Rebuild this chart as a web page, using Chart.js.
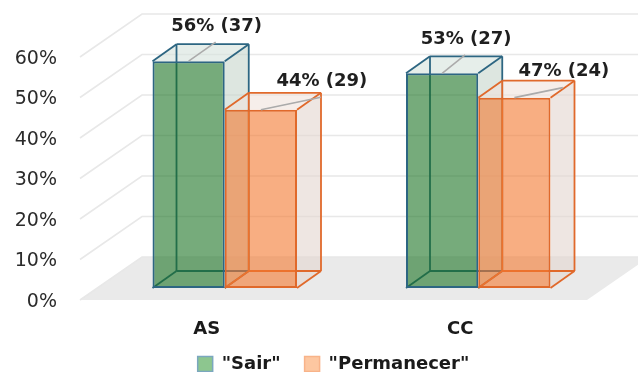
<!DOCTYPE html>
<html>
<head>
<meta charset="utf-8">
<script src="https://cdn.jsdelivr.net/npm/chart.js@4.4.1/dist/chart.umd.min.js"></script>
<style>
  html, body { margin: 0; padding: 0; background: #ffffff; }
  #chart { display: block; }
</style>
</head>
<body>
<canvas id="chart" width="638" height="372"></canvas>
<script>
// ---- data ----
const categories = ['AS', 'CC'];
const seriesNames = ['"Sair"', '"Permanecer"'];
const sairPct = [56, 53];
const sairCount = [37, 27];
const permanecerPct = [44, 47];
const permanecerCount = [29, 24];
const yMax = 60;
const yStep = 10;

// ---- 3D projection (oblique) ----
const FLOOR_DEPTH = { x: 62, y: -43 };   // front edge of the floor -> back wall
const BAR_FRONT = { x: 18, y: -12 };     // front face of the boxes, measured from the floor front
const BAR_DEPTH = { x: 24, y: -17 };     // box thickness
const LEGEND_SHIFT = { x: 40, y: -9 };

const styles = [
  { front: 'rgba(27,115,35,0.6)', edge: '#2D6682', top: 'rgba(213,226,220,0.6)', side: 'rgba(198,213,204,0.6)',
    legendFill: '#8DC68F', legendEdge: '#7BA7BF' },
  { front: 'rgba(243,120,47,0.6)', edge: '#E0692B', top: 'rgba(240,226,220,0.6)', side: 'rgba(226,214,207,0.6)',
    legendFill: '#FDC7A1', legendEdge: '#F8B389' }
];

// data-label placement relative to the top-front centre of each box
const labelOffsets = [
  [[28, -35], [24, -34.5]],
  [[61, -28.5], [49.5, -26]]
];
const counts = [sairCount, permanecerCount];

function boxGeometry(bar) {
  const half = bar.width / 2;
  const fl = bar.x - half + BAR_FRONT.x, fr = bar.x + half + BAR_FRONT.x;
  const ft = bar.y + BAR_FRONT.y, fb = bar.base + BAR_FRONT.y;
  const d = BAR_DEPTH;
  return {
    fl, fr, ft, fb,
    bl: fl + d.x, br: fr + d.x, bt: ft + d.y, bb: fb + d.y
  };
}

function line(ctx, x1, y1, x2, y2) {
  ctx.beginPath(); ctx.moveTo(x1, y1); ctx.lineTo(x2, y2); ctx.stroke();
}

function poly(ctx, pts, fill) {
  ctx.beginPath();
  ctx.moveTo(pts[0][0], pts[0][1]);
  for (let k = 1; k < pts.length; k++) ctx.lineTo(pts[k][0], pts[k][1]);
  ctx.closePath();
  ctx.fillStyle = fill;
  ctx.fill();
}

// back, side and top of each box, drawn before its translucent front face
function drawBoxBacks(ctx, meta, st) {
  ctx.save();
  meta.data.forEach(bar => {
    const g = boxGeometry(bar);
    poly(ctx, [[g.fr, g.ft], [g.br, g.bt], [g.br, g.bb], [g.fr, g.fb]], st.side);
    poly(ctx, [[g.fl, g.ft], [g.fr, g.ft], [g.br, g.bt], [g.bl, g.bt]], st.top);
    ctx.strokeStyle = st.edge;
    ctx.lineWidth = 1.8;
    ctx.lineJoin = 'round';
    // hidden edges, seen through the front
    line(ctx, g.bl, g.bt, g.bl, g.bb);
    line(ctx, g.bl, g.bb, g.br, g.bb);
    line(ctx, g.fl, g.fb, g.bl, g.bb);
    // outer back/depth edges
    line(ctx, g.bl, g.bt, g.br, g.bt);
    line(ctx, g.br, g.bt, g.br, g.bb);
    line(ctx, g.fl, g.ft, g.bl, g.bt);
    line(ctx, g.fr, g.ft, g.br, g.bt);
    line(ctx, g.fr, g.fb, g.br, g.bb);
  });
  ctx.restore();
}

const box3d = {
  id: 'box3d',
  afterLayout(chart) {
    const lg = chart.legend;
    lg.left += LEGEND_SHIFT.x; lg.right += LEGEND_SHIFT.x;
    lg.top += LEGEND_SHIFT.y; lg.bottom += LEGEND_SHIFT.y;
  },
  beforeDatasetsDraw(chart) {
    const { ctx, chartArea: a, scales: { y } } = chart;
    const D = FLOOR_DEPTH;
    ctx.save();
    // floor
    poly(ctx, [[a.left, a.bottom], [a.right, a.bottom], [a.right + D.x, a.bottom + D.y], [a.left + D.x, a.bottom + D.y]], '#EAEAEA');
    // side-wall and back-wall grid lines
    ctx.strokeStyle = '#E8E8E8';
    ctx.lineWidth = 1.6;
    for (let v = 0; v <= yMax; v += yStep) {
      const py = y.getPixelForValue(v);
      ctx.beginPath();
      ctx.moveTo(a.left, py);
      ctx.lineTo(a.left + D.x, py + D.y);
      ctx.lineTo(a.right + D.x, py + D.y);
      ctx.stroke();
    }
    ctx.restore();

    // boxes, left series first; each front face is drawn by the bar controller,
    // projected onto the box plane
    chart.data.datasets.forEach((ds, i) => {
      const meta = chart.getDatasetMeta(i);
      drawBoxBacks(ctx, meta, styles[i]);
      ctx.save();
      ctx.translate(BAR_FRONT.x, BAR_FRONT.y);
      meta.controller.draw();
      ctx.restore();
    });
  },
  // the boxes are already painted in series order above
  beforeDatasetDraw() {
    return false;
  },
  afterDatasetsDraw(chart) {
    const { ctx } = chart;
    ctx.save();
    ctx.font = 'bold 18px "DejaVu Sans"';
    ctx.textAlign = 'center';
    ctx.textBaseline = 'middle';
    chart.data.datasets.forEach((ds, i) => {
      chart.getDatasetMeta(i).data.forEach((bar, j) => {
        const tx = bar.x + BAR_FRONT.x, ty = bar.y + BAR_FRONT.y;
        const lx = tx + labelOffsets[i][j][0], ly = ty + labelOffsets[i][j][1];
        ctx.strokeStyle = '#ABABAB';
        ctx.lineWidth = 1.6;
        line(ctx, lx - 1, ly + 16, tx, ty);
        ctx.fillStyle = '#1F1F1F';
        ctx.fillText(ds.data[j] + '% (' + counts[i][j] + ')', lx, ly);
      });
    });
    ctx.restore();
  }
};

new Chart(document.getElementById('chart'), {
  type: 'bar',
  data: {
    labels: categories,
    datasets: [
      { label: seriesNames[0], data: sairPct },
      { label: seriesNames[1], data: permanecerPct }
    ].map((ds, i) => Object.assign(ds, {
      backgroundColor: styles[i].front,
      borderColor: styles[i].edge,
      borderWidth: 2,
      borderSkipped: false,
      categoryPercentage: 0.57,
      barPercentage: 1,
      clip: false
    }))
  },
  options: {
    responsive: false,
    animation: false,
    devicePixelRatio: 1,
    layout: { padding: { top: 57, right: 51, bottom: -20, left: 0 } },
    plugins: {
      tooltip: { enabled: false },
      legend: {
        position: 'bottom',
        labels: {
          boxWidth: 15,
          boxHeight: 15,
          padding: 24,
          color: '#1A1A1A',
          font: { family: 'DejaVu Sans', size: 18, weight: 'bold' },
          generateLabels: chart => chart.data.datasets.map((ds, i) => ({
            text: ds.label,
            fillStyle: styles[i].legendFill,
            strokeStyle: styles[i].legendEdge,
            lineWidth: 1.5,
            fontColor: '#1A1A1A',
            hidden: false,
            datasetIndex: i
          }))
        }
      }
    },
    scales: {
      x: {
        grid: { display: false, drawTicks: false },
        border: { display: false },
        ticks: { color: '#1A1A1A', padding: 19, font: { family: 'DejaVu Sans', size: 18, weight: 'bold' } },
        afterFit: s => { s.height = 40; }
      },
      y: {
        min: 0,
        max: yMax,
        grid: { display: false, drawTicks: false },
        border: { display: false },
        ticks: {
          stepSize: yStep,
          color: '#2B2B2B',
          padding: 23,
          labelOffset: 2,
          font: { family: 'DejaVu Sans', size: 19 },
          callback: v => v + '%'
        },
        afterFit: s => { s.width = 80; }
      }
    }
  },
  plugins: [box3d]
});
</script>
</body>
</html>
